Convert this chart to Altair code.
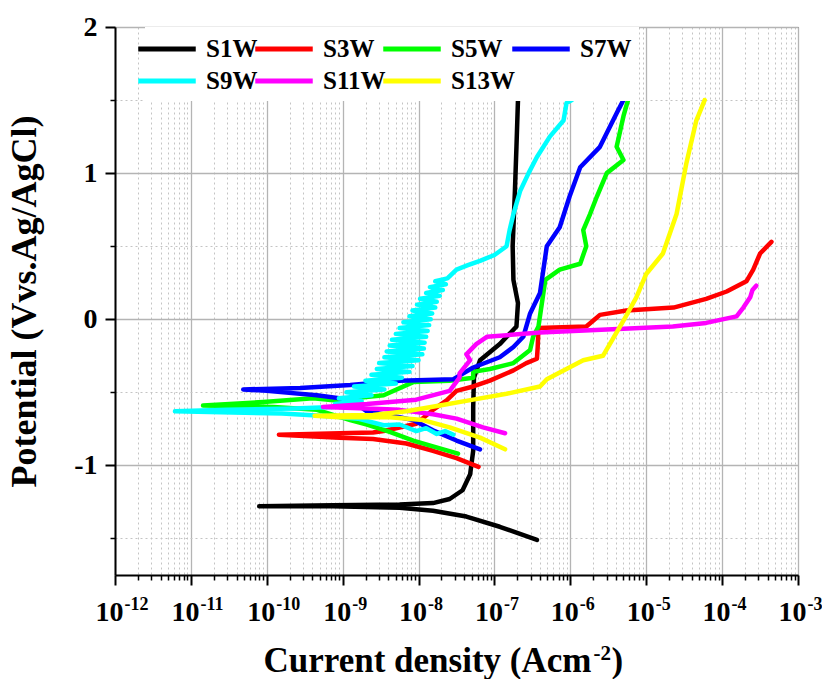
import altair as alt
import pandas as pd

names = ["S1W", "S3W", "S5W", "S7W", "S9W", "S11W", "S13W"]
colors = ["#000000", "#ff0000", "#00ff00", "#0000ff", "#00ffff", "#ff00ff", "#ffff00"]

# log10 of current density (A cm^-2) and potential (V vs Ag/AgCl)
s1w_logi = [-6.44, -6.93, -7.37, -7.81, -8.25, -9.13, -10.10, -9.13, -8.25, -7.81, -7.59, -7.42,
            -7.32, -7.28, -7.28, -7.27, -7.19, -6.93, -6.71, -6.69, -6.75, -6.76, -6.73, -6.71, -6.69]
s1w_e = [-1.51, -1.42, -1.35, -1.31, -1.29, -1.28, -1.28, -1.272, -1.268, -1.258, -1.23, -1.17,
         -1.06, -0.90, -0.60, -0.40, -0.28, -0.17, -0.05, 0.11, 0.27, 0.50, 0.88, 1.18, 1.50]

s3w_logi = [-7.21, -7.50, -7.81, -8.16, -8.60, -9.04, -9.84, -9.04, -8.60, -8.46, -8.03, -7.81,
            -7.63, -7.50, -7.28, -7.06, -6.75, -6.58, -6.44, -6.43, -6.42, -5.79, -5.70, -5.61,
            -5.26, -4.64, -4.21, -3.94, -3.68, -3.59, -3.50, -3.35]
s3w_e = [-1.01, -0.95, -0.90, -0.85, -0.82, -0.81, -0.79, -0.78, -0.775, -0.765, -0.715, -0.62,
         -0.555, -0.49, -0.46, -0.42, -0.35, -0.30, -0.27, -0.19, -0.06, -0.05, -0.01, 0.03,
         0.06, 0.08, 0.14, 0.19, 0.26, 0.34, 0.45, 0.53]

s5w_logi = [-7.48, -7.81, -8.07, -8.38, -8.68, -8.90, -9.34, -9.91, -10.84, -10.0, -9.39, -9.12,
            -8.46, -8.07, -7.59, -7.28, -7.28, -7.06, -6.75, -6.53, -6.49, -6.42, -6.33, -6.14,
            -5.87, -5.79, -5.83, -5.74, -5.65, -5.52, -5.30, -5.39, -5.30, -5.24]
s5w_e = [-0.92, -0.87, -0.83, -0.77, -0.72, -0.69, -0.62, -0.60, -0.59, -0.565, -0.54, -0.555,
         -0.52, -0.43, -0.42, -0.40, -0.36, -0.34, -0.30, -0.21, -0.12, -0.05, 0.27, 0.34,
         0.38, 0.50, 0.61, 0.72, 0.84, 1.00, 1.09, 1.18, 1.39, 1.50]

s7w_logi = [-7.19, -7.50, -7.81, -8.07, -8.25, -8.68, -8.90, -9.34, -10.0, -10.31, -9.56, -8.90,
            -8.25, -7.54, -7.28, -6.93, -6.75, -6.62, -6.53, -6.40, -6.31, -6.14, -6.01, -5.87,
            -5.61, -5.39, -5.30]
s7w_e = [-0.89, -0.83, -0.76, -0.69, -0.67, -0.63, -0.55, -0.52, -0.49, -0.48, -0.47, -0.45,
         -0.42, -0.41, -0.33, -0.26, -0.19, -0.12, 0.04, 0.18, 0.50, 0.63, 0.84, 1.04,
         1.18, 1.41, 1.50]

s9w_logi = [-7.54, -7.65, -7.76, -7.90, -8.03, -8.25, -8.46, -8.80, -9.12, -9.80, -11.21, -10.53,
            -9.65, -9.12,
            -9.10, -8.75, -9.05, -8.62, -8.95, -8.45, -8.85, -8.30, -8.70, -8.22, -8.62, -8.12,
            -8.55, -8.08, -8.52, -8.00, -8.45, -7.95, -8.42, -7.93, -8.38, -7.92, -8.35, -7.90,
            -8.30, -7.88, -8.25, -7.86, -8.20, -7.84, -8.12, -7.82, -8.08, -7.78, -8.02, -7.76,
            -7.98, -7.72, -7.90, -7.68, -7.85, -7.64, -7.78, -7.62,
            -7.50, -7.35, -7.19, -7.00, -6.84, -6.80, -6.75, -6.66, -6.55, -6.44, -6.27, -6.09,
            -6.05, -5.98]
s9w_e = [-0.79, -0.765, -0.785, -0.745, -0.765, -0.72, -0.725, -0.68, -0.665, -0.645, -0.63, -0.62,
         -0.61, -0.60,
         -0.58, -0.56, -0.54, -0.52, -0.50, -0.48, -0.46, -0.44, -0.42, -0.40, -0.38, -0.36,
         -0.34, -0.32, -0.30, -0.28, -0.26, -0.24, -0.22, -0.20, -0.18, -0.16, -0.14, -0.12,
         -0.10, -0.08, -0.06, -0.04, -0.02, 0.00, 0.02, 0.04, 0.06, 0.08, 0.10, 0.12,
         0.14, 0.16, 0.18, 0.20, 0.22, 0.24, 0.26, 0.28,
         0.34, 0.37, 0.40, 0.44, 0.50, 0.61, 0.72, 0.88, 1.00, 1.11, 1.25, 1.36,
         1.48, 1.50]

s11w_logi = [-6.86, -7.15, -7.50, -7.81, -8.25, -8.68, -9.26, -8.68, -8.03, -7.59, -7.46, -7.46,
             -7.32, -7.37, -7.24, -7.10, -6.40, -5.30, -4.65, -4.21, -3.81, -3.72, -3.63, -3.60, -3.55]
s11w_e = [-0.78, -0.74, -0.68, -0.65, -0.62, -0.61, -0.60, -0.58, -0.55, -0.49, -0.40, -0.37,
          -0.28, -0.24, -0.17, -0.12, -0.09, -0.065, -0.05, -0.025, 0.02, 0.08, 0.15, 0.20, 0.23]

s13w_logi = [-6.86, -7.19, -7.59, -7.94, -8.38, -9.04, -9.37, -8.60, -8.16, -7.72, -7.28, -6.84,
             -6.40, -6.31, -5.83, -5.57, -5.48, -5.30, -5.13, -5.00, -4.78, -4.60, -4.47, -4.34, -4.23]
s13w_e = [-0.89, -0.81, -0.74, -0.69, -0.67, -0.67, -0.66, -0.655, -0.63, -0.59, -0.55, -0.51,
          -0.46, -0.41, -0.28, -0.25, -0.17, -0.01, 0.15, 0.31, 0.45, 0.72, 1.07, 1.36, 1.50]

series = [(s1w_logi, s1w_e), (s3w_logi, s3w_e), (s5w_logi, s5w_e), (s7w_logi, s7w_e),
          (s9w_logi, s9w_e), (s11w_logi, s11w_e), (s13w_logi, s13w_e)]

x_major = [1e-12, 1e-11, 1e-10, 1e-9, 1e-8, 1e-7, 1e-6, 1e-5, 1e-4, 1e-3]
x_tick_base = ["10"] * 10
x_tick_exponents = ["-12", "-11", "-10", "-9", "-8", "-7", "-6", "-5", "-4", "-3"]
x_minor = [k * d for d in x_major[:-1] for k in range(2, 10)]
y_major = [-1, 0, 1, 2]
y_tick_labels = ["-1", "0", "1", "2"]
y_minor = [-1.5, -0.5, 0.5, 1.5]
x_title_main = "Current density (Acm"
x_title_exp = "-2"
x_title_close = ")"
y_title = "Potential (Vvs.Ag/AgCl)"

rows = []
for name, (li, es) in zip(names, series):
    for k, (a, b) in enumerate(zip(li, es)):
        rows.append({"s": name, "k": k, "i": 10 ** a, "e": b})
df = pd.DataFrame(rows)

FONT = "Liberation Serif"
xscale = alt.Scale(type="log", domain=[1e-12, 1e-3], nice=False)
yscale = alt.Scale(domain=[-1.75, 2], nice=False)
cscale = alt.Scale(domain=names, range=colors)

idx = "[round(log(datum.value)/LN10)+12]"
x_base_expr = "[" + ",".join("'%s'" % s for s in x_tick_base) + "]" + idx
x_exp_expr = "[" + ",".join("'%s'" % s for s in x_tick_exponents) + "]" + idx
y_label_expr = "[" + ",".join("'%s'" % s for s in y_tick_labels) + "][datum.value+1]"

x_major_axis = alt.Axis(
    orient="bottom", values=x_major, labelExpr=x_base_expr, grid=True,
    gridColor="#b4b4b4", gridWidth=1.3, tickSize=10, tickWidth=2, tickColor="black",
    domainColor="black", domainWidth=2, labelFont=FONT, labelFontSize=28,
    labelFontWeight="bold", labelColor="black", labelBaseline="alphabetic",
    labelAlign="right", labelOffset=8,
    labelPadding=35, labelOverlap=False, labelFlush=False, labelBound=False,
    title=x_title_main, titleFont=FONT, titleFontSize=35,
    titleFontWeight="bold", titleColor="black", titleX=148, titleY=96,
    titleBaseline="alphabetic", titleAlign="left")
x_exp_axis = alt.Axis(
    orient="bottom", values=x_major, labelExpr=x_exp_expr, grid=False,
    tickSize=10, tickOpacity=0, domain=False, labelFont=FONT, labelFontSize=18,
    labelFontWeight="bold", labelColor="black", labelBaseline="alphabetic",
    labelAlign="left", labelOffset=9, labelPadding=24, labelOverlap=False,
    labelFlush=False, labelBound=False,
    title=x_title_exp, titleFont=FONT, titleFontSize=21, titleFontWeight="bold",
    titleColor="black", titleX=478, titleY=84, titleBaseline="alphabetic",
    titleAlign="left")
x_minor_axis = alt.Axis(
    orient="bottom", values=x_minor, grid=True, gridColor="#c4c4c4", gridWidth=1,
    gridDash=[2, 3], tickSize=5, tickWidth=1.5, tickColor="black", labels=False,
    domain=False,
    title=x_title_close, titleFont=FONT, titleFontSize=35, titleFontWeight="bold",
    titleColor="black", titleX=496, titleY=96, titleBaseline="alphabetic",
    titleAlign="left")
y_major_axis = alt.Axis(
    orient="left", values=y_major, labelExpr=y_label_expr, grid=True,
    gridColor="#b4b4b4", gridWidth=1.3, tickSize=10, tickWidth=2, tickColor="black",
    domainColor="black", domainWidth=2, labelFont=FONT, labelFontSize=28,
    labelFontWeight="bold", labelColor="black", labelPadding=8, labelBaseline="middle",
    labelOverlap=False, labelFlush=False, labelBound=False,
    title=y_title, titleFont=FONT, titleFontSize=36,
    titleFontWeight="bold", titleColor="black", titleAngle=270, titleX=-79.5, titleY=274,
    titleBaseline="alphabetic", titleAlign="center")
y_minor_axis = alt.Axis(
    orient="left", values=y_minor, grid=True, gridColor="#c4c4c4", gridWidth=1,
    gridDash=[2, 3], tickSize=5, tickWidth=1.5, tickColor="black", labels=False,
    domain=False, title=None)

legend = alt.Legend(
    title=None, orient="none", legendX=30, legendY=0, direction="horizontal", columns=4,
    gridAlign="none", symbolType="M-2.3,0H2.3", symbolSize=625, symbolStrokeWidth=5,
    labelFont=FONT, labelFontSize=25, labelFontWeight="bold", labelColor="black",
    labelOffset=24, columnPadding=-13, rowPadding=4, padding=7, fillColor="white", zindex=1)

layers = []
# invisible layer carrying the minor ticks, dotted grid and closing bracket of the x title
layers.append(
    alt.Chart(df[df.s == "S1W"]).mark_line(strokeOpacity=0).encode(
        x=alt.X("i:Q", scale=xscale, axis=x_minor_axis),
        y=alt.Y("e:Q", scale=yscale, axis=y_minor_axis),
    )
)
# invisible layer carrying the exponent parts of the x tick labels and x title
layers.append(
    alt.Chart(df[df.s == "S1W"]).mark_line(strokeOpacity=0).encode(
        x=alt.X("i:Q", scale=xscale, axis=x_exp_axis),
        y=alt.Y("e:Q", scale=yscale, axis=None),
    )
)
for n, name in enumerate(names):
    layers.append(
        alt.Chart(df[df.s == name]).mark_line(strokeWidth=4.5, strokeJoin="round", strokeCap="round").encode(
            x=alt.X("i:Q", scale=xscale, axis=x_major_axis if n == 0 else None),
            y=alt.Y("e:Q", scale=yscale, axis=y_major_axis if n == 0 else None),
            color=alt.Color("s:N", scale=cscale, legend=legend if n == 0 else None),
            order=alt.Order("k:Q"),
        )
    )

chart = alt.layer(*layers).resolve_axis(x="independent", y="independent").properties(
    width=683, height=548,
    autosize=alt.AutoSizeParams(type="none"),
    padding={"left": 115, "top": 27, "right": 24, "bottom": 104},
    background="white",
).configure_view(stroke="#444444", strokeWidth=1)

chart.save("out.html", embed_options={"renderer": "svg", "actions": False})
